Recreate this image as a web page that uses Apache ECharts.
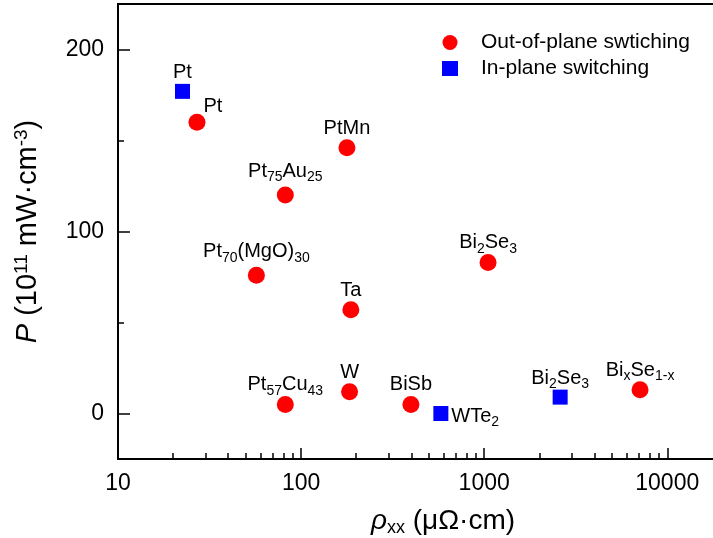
<!DOCTYPE html>
<html>
  <head>
    <meta charset="utf-8">
    <title>P vs rho</title>
    <style type="text/css">
    html, body {margin:0;padding:0;background:#fff;}
    #main {width:713px;height:538px;}
    </style>
    <script src="https://cdn.jsdelivr.net/npm/echarts@6/dist/echarts.min.js"></script>
  </head>
  <body>
    <div id="main"></div>
    <script type="text/javascript">
      // out-of-plane switching (red circles)
      var oopNames = ['Pt', 'PtMn', 'Pt{s|75}Au{s|25}', 'Pt{s|70}(MgO){s|30}', 'Ta',
                      'Bi{s|2}Se{s|3}', 'Pt{s|57}Cu{s|43}', 'W', 'BiSb', 'Bi{s|x}Se{s|1-x}'];
      var oopRho = [27, 178, 82, 57, 187, 1050, 82, 184, 398, 7100];
      var oopP = [160, 146, 120, 76, 57, 83, 5, 12, 5, 13];

      // in-plane switching (blue squares)
      var ipNames = ['Pt', 'WTe{s|2}', 'Bi{s|2}Se{s|3}'];
      var ipRho = [22.5, 580, 2600];
      var ipP = [177, 0, 9];

      var xMajor = [10, 100, 1000, 10000];
      var xMinor = [20, 30, 40, 50, 60, 70, 80, 90, 200, 300, 400, 500, 600, 700, 800, 900,
                    2000, 3000, 4000, 5000, 6000, 7000, 8000, 9000];
      var yMajor = [0, 100, 200];
      var yMinor = [50, 150];

      var font = 'Liberation Sans, Arial, sans-serif';

      // label tweaks that differ from the default (above the marker)
      var oopLabelTweak = {0: {offset: [16, 4]}, 2: {distance: 2}, 3: {distance: 2}};
      var ipLabelTweak = {1: {position: 'right', distance: 3, offset: [0, 3]}};

      function buildData(names, xs, ys, tweak) {
        var out = [];
        for (var i = 0; i < names.length; i++) {
          var item = {name: names[i], value: [xs[i], ys[i]]};
          if (tweak[i]) item.label = tweak[i];
          out.push(item);
        }
        return out;
      }

      var labelBase = {
        show: true,
        position: 'top',
        distance: -2,
        formatter: '{b}',
        color: '#000',
        fontFamily: font,
        fontSize: 20,
        lineHeight: 26,
        rich: {
          s: {fontSize: 14, lineHeight: 14, verticalAlign: 'bottom', fontFamily: font, color: '#000'}
        }
      };

      var chart = echarts.init(document.getElementById('main'));
      var option = {
        animation: false,
        grid: {
          left: 118, top: 4, right: -1, bottom: 79,
          outerBoundsMode: 'none', containLabel: false,
          show: true, borderColor: '#000', borderWidth: 2, backgroundColor: 'transparent'
        },
        legend: {
          orient: 'vertical',
          left: 437, top: 27,
          itemWidth: 16, itemHeight: 15, itemGap: 5,
          textStyle: {fontFamily: font, fontSize: 21, color: '#000', padding: [0, 0, 0, 18]},
          data: [
            {name: 'Out-of-plane swtiching', icon: 'circle'},
            {name: 'In-plane switching', icon: 'rect'}
          ]
        },
        xAxis: [{
          type: 'log', logBase: 10, min: 10, max: 18000,
          name: '{i|ρ}{sub|xx} (μΩ·cm)',
          nameLocation: 'middle', nameGap: 46,
          nameTextStyle: {
            fontFamily: font, fontSize: 28, color: '#000', lineHeight: 32, padding: [0, 0, 0, 54],
            rich: {
              i: {fontFamily: font, fontSize: 28, fontStyle: 'italic', lineHeight: 32, color: '#000'},
              sub: {fontFamily: font, fontSize: 18, lineHeight: 18, verticalAlign: 'bottom', color: '#000'}
            }
          },
          axisLine: {onZero: false, lineStyle: {color: '#000', width: 2}},
          axisTick: {inside: true, length: 11, lineStyle: {color: '#000', width: 1.5}, customValues: xMajor},
          axisLabel: {
            customValues: xMajor, fontFamily: font, fontSize: 23, color: '#000', margin: 13,
            formatter: function (v) { return String(Math.round(v)); }
          },
          splitLine: {show: false}
        }, {
          type: 'log', logBase: 10, min: 10, max: 18000, position: 'bottom',
          axisLine: {show: false, onZero: false},
          axisTick: {inside: true, length: 6, lineStyle: {color: '#000', width: 1.5}, customValues: xMinor},
          axisLabel: {show: false},
          splitLine: {show: false}
        }],
        yAxis: [{
          type: 'value', min: -25, max: 225,
          name: '{i|P} (10{sup|11} mW·cm{sup|-3})',
          nameLocation: 'middle', nameRotate: 90, nameGap: 74,
          nameTextStyle: {
            fontFamily: font, fontSize: 29, color: '#000', lineHeight: 32,
            rich: {
              i: {fontFamily: font, fontSize: 29, fontStyle: 'italic', lineHeight: 32, color: '#000'},
              sup: {fontFamily: font, fontSize: 19, lineHeight: 18, verticalAlign: 'top', color: '#000'}
            }
          },
          axisLine: {onZero: false, lineStyle: {color: '#000', width: 2}},
          axisTick: {inside: true, length: 12, lineStyle: {color: '#000', width: 1.5}, customValues: yMajor},
          axisLabel: {customValues: yMajor, fontFamily: font, fontSize: 23, color: '#000', margin: 14},
          splitLine: {show: false}
        }, {
          type: 'value', min: -25, max: 225, position: 'left',
          axisLine: {show: false, onZero: false},
          axisTick: {inside: true, length: 6, lineStyle: {color: '#000', width: 1.5}, customValues: yMinor},
          axisLabel: {show: false},
          splitLine: {show: false}
        }],
        series: [{
          name: 'Out-of-plane swtiching',
          type: 'scatter',
          xAxisIndex: 0, yAxisIndex: 0,
          symbol: 'circle', symbolSize: 17,
          itemStyle: {color: '#ff0000', opacity: 1},
          label: labelBase,
          data: buildData(oopNames, oopRho, oopP, oopLabelTweak)
        }, {
          name: 'In-plane switching',
          type: 'scatter',
          xAxisIndex: 0, yAxisIndex: 0,
          symbol: 'rect', symbolSize: 15,
          itemStyle: {color: '#0000ff', opacity: 1},
          label: labelBase,
          data: buildData(ipNames, ipRho, ipP, ipLabelTweak)
        }]
      };
      chart.setOption(option);
    </script>
  </body>
</html>
